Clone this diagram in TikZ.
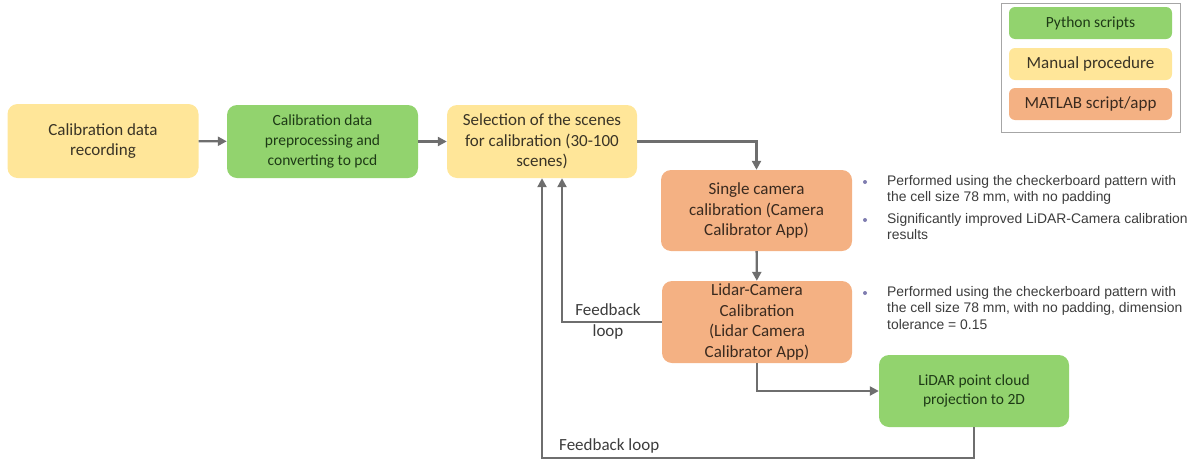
\documentclass[tikz,border=0pt]{standalone}
\usepackage{fontspec}
\setmainfont{Carlito}
\newfontfamily\notefont{Liberation Sans}
\usetikzlibrary{arrows.meta}

\definecolor{pyfill}{HTML}{92D36E}
\definecolor{manfill}{HTML}{FFE699}
\definecolor{matfill}{HTML}{F4B183}
\definecolor{pytext}{HTML}{1E3A16}
\definecolor{mantext}{HTML}{3A3426}
\definecolor{mattext}{HTML}{3A2A1F}
\definecolor{linkcol}{HTML}{6E6E6E}
\definecolor{notecol}{HTML}{3C3C3C}
\definecolor{dotcol}{HTML}{7F7DB0}
\definecolor{framecol}{HTML}{A6A6A6}

\tikzset{
  stage/.style={rectangle, rounded corners=10pt, draw=none, align=center,
    inner sep=2pt, font=\fontsize{17}{20.5}\selectfont},
  pybox/.style={stage, fill=pyfill, text=pytext},
  manbox/.style={stage, fill=manfill, text=mantext},
  matbox/.style={stage, fill=matfill, text=mattext},
  link/.style={draw=linkcol, line width=2.4pt,
    -{Triangle[length=9pt,width=9pt]}},
  note/.style={anchor=north west, inner sep=0pt, align=left, text=notecol,
    font=\notefont\fontsize{13.9}{16.5}\selectfont},
  looplabel/.style={text=notecol, align=center, inner sep=0pt,
    font=\fontsize{17}{21}\selectfont},
  keybox/.style={rectangle, rounded corners=6pt, minimum width=163pt,
    minimum height=32pt, inner sep=0pt}
}

\begin{document}
\begin{tikzpicture}[x=1pt, y=-1pt]
  \useasboundingbox (0,0) rectangle (1204,464);

  % pipeline stages
  \node[manbox, minimum width=191pt, minimum height=74pt] (rec) at (103,141)
    {Calibration data\\recording};
  \node[pybox, minimum width=191pt, minimum height=73pt,
        font=\fontsize{15.5}{20}\selectfont] (prep) at (322.5,141.5)
    {Calibration data\\preprocessing and\\converting to pcd};
  \node[manbox, minimum width=190pt, minimum height=73pt] (sel) at (542,141.5)
    {Selection of the scenes\\for calibration (30-100\\scenes)};
  \node[matbox, minimum width=191pt, minimum height=81pt] (cam) at (756.5,210.5)
    {Single camera\\calibration (Camera\\Calibrator App)};
  \node[matbox, minimum width=190pt, minimum height=82pt] (lid) at (757,322)
    {Lidar-Camera\\Calibration\\(Lidar Camera\\Calibrator App)};
  \node[pybox, minimum width=190pt, minimum height=72pt,
        font=\fontsize{15.5}{19.5}\selectfont] (proj) at (974,391)
    {LiDAR point cloud\\projection to 2D};

  % connectors
  \draw[link] (rec) -- (prep);
  \draw[link] (prep) -- (sel);
  \draw[link] (sel.east) -| (cam.north);
  \draw[link] (cam) -- (lid);
  \draw[link] (lid.south) |- (proj.west);
  \draw[link] (lid.west) -| ([xshift=20pt]sel.south);
  \coordinate (loopcorner) at ([yshift=-31pt]proj.south);
  \draw[link] (proj.south) -- (loopcorner) -| (sel.south);

  % loop labels
  \node[looplabel] (fb1) at (608,321) {Feedback\\loop};
  \node[looplabel, anchor=west] (fb2) at (559,446) {Feedback loop};

  % notes beside the MATLAB stages
  \fill[dotcol] (865,182) circle (2);
  \node[note] (n1) at (887,175)
    {Performed using the checkerboard pattern with\\the cell size 78 mm, with no padding};
  \fill[dotcol] (865,220) circle (2);
  \node[note] (n2) at (887,213)
    {Significantly improved LiDAR-Camera calibration\\results};
  \fill[dotcol] (865,293) circle (2);
  \node[note] (n3) at (887,286)
    {Performed using the checkerboard pattern with\\the cell size 78 mm, with no padding, dimension\\tolerance = 0.15};

  % legend
  \draw[framecol, line width=1pt] (1001,3) rectangle (1180,132);
  \node[keybox, fill=pyfill, text=pytext, font=\fontsize{15.5}{18}\selectfont]
    (k1) at (1090.5,23) {Python scripts};
  \node[keybox, fill=manfill, text=mantext, font=\fontsize{17}{20}\selectfont]
    (k2) at (1090.5,64) {Manual procedure};
  \node[keybox, fill=matfill, text=mattext, font=\fontsize{17}{20}\selectfont]
    (k3) at (1090.5,104) {MATLAB script/app};
\end{tikzpicture}
\end{document}
